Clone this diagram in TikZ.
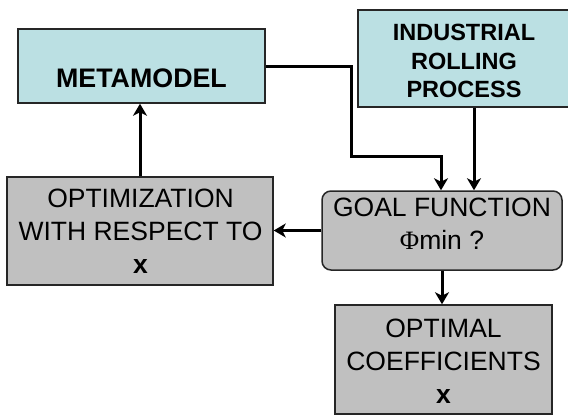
\documentclass[tikz,border=0pt]{standalone}
\usepackage{fontspec}
\setmainfont{Liberation Sans}
\newfontfamily\phifont{Liberation Serif}
\usetikzlibrary{arrows.meta,calc}
\definecolor{cyanfill}{HTML}{BBE0E3}
\definecolor{grayfill}{HTML}{C0C0C0}
\tikzset{
  cyanbox/.style={draw=black!85, line width=1.5pt, fill=cyanfill, inner sep=0pt, align=center},
  graybox/.style={draw=black!85, line width=1.5pt, fill=grayfill, inner sep=0pt, align=center},
  boldtxt/.style={font=\fontsize{26.8}{28.5}\selectfont\bfseries, align=center, inner sep=0pt},
  indtxt/.style={font=\fontsize{23.5}{28.5}\selectfont\bfseries, align=center, inner sep=0pt},
  boxtxt/.style={font=\fontsize{26.5}{33}\selectfont, align=center, inner sep=0pt},
  arr/.style={line width=3pt, -{Stealth[length=12pt,width=14pt,inset=3.5pt]}}
}
\begin{document}
\begin{tikzpicture}[x=1pt,y=-1pt]
\useasboundingbox (0,0) rectangle (568,415);
% boxes
\node[cyanbox, minimum width=247, minimum height=74] (meta) at (141.5,66) {};
\node[boldtxt] (metatxt) at (141.5,78) {METAMODEL};
\node[cyanbox, minimum width=212, minimum height=97] (ind) at (464,58.5) {};
\node[indtxt] (indtxt) at (464,61) {INDUSTRIAL\\ROLLING\\PROCESS};
\node[graybox, minimum width=266, minimum height=108] (opt) at (140,231) {};
\node[boxtxt] (opttxt) at (140.5,231) {OPTIMIZATION\\WITH RESPECT TO\\\textbf{x}};
\node[graybox, rounded corners=9pt, minimum width=240, minimum height=79] (goal) at (442,230.5) {};
\node[boxtxt] (goaltxt) at (442,224) {GOAL FUNCTION\\{\phifont Φ}min ?};
\node[graybox, minimum width=217, minimum height=109] (optc) at (443.5,359.5) {};
\node[boxtxt] (optctxt) at (443.5,361) {OPTIMAL\\COEFFICIENTS\\\textbf{x}};
% connectors
\coordinate (b1) at (351,156);
\draw[arr] (opt.north) -- (opt.north |- meta.south);
\draw[arr] (meta.east) -| (b1) -| ([xshift=-1]goal.north);
\draw[arr] ([xshift=32]goal.north |- ind.south) -- ([xshift=32]goal.north);
\draw[arr] (goal.west) -- (goal.west -| opt.east);
\draw[arr] (goal.south) -- (goal.south |- optc.north);
\end{tikzpicture}
\end{document}
